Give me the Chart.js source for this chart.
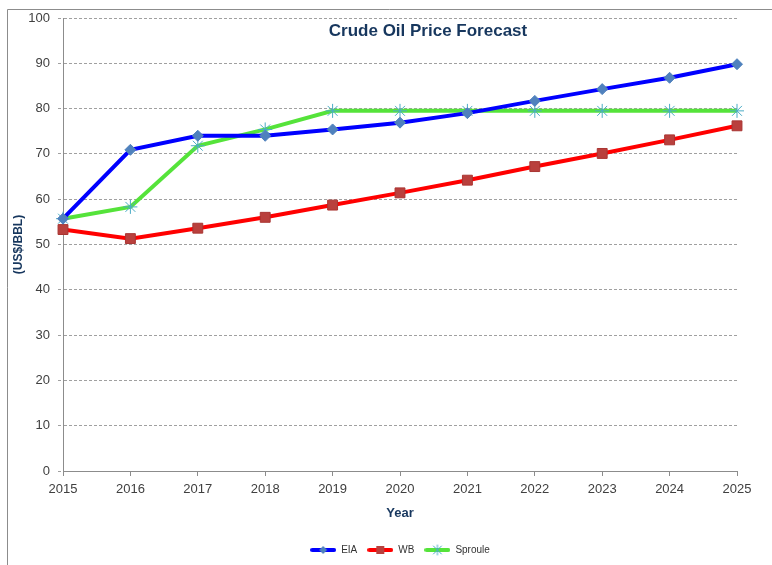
<!DOCTYPE html>
<html>
<head>
<meta charset="utf-8">
<script src="https://cdn.jsdelivr.net/npm/chart.js@4"></script>
<style>
  html, body { margin: 0; padding: 0; background: #fff; }
  #wrap { width: 772px; height: 565px; position: relative; }
</style>
</head>
<body>
<div id="wrap"><canvas id="c" width="772" height="565"></canvas></div>
<script>
const years = ['2015','2016','2017','2018','2019','2020','2021','2022','2023','2024','2025'];
const eia = [55.7, 70.9, 74.0, 74.0, 75.4, 76.9, 79.0, 81.7, 84.3, 86.8, 89.8];
const wb = [53.3, 51.3, 53.6, 56.0, 58.7, 61.4, 64.2, 67.2, 70.1, 73.1, 76.2];
const sproule = [55.7, 58.3, 71.8, 75.4, 79.5, 79.5, 79.5, 79.5, 79.5, 79.5, 79.5];
const seriesNames = ['EIA', 'WB', 'Sproule'];
const titleText = 'Crude Oil Price Forecast';
const yTitle = '(US$/BBL)';
const xTitle = 'Year';

const navy = '#17375E';
const lineColors = ['#0000FF', '#FF0000', '#55E33A'];
const markerFill = ['#4F81BD', '#B9403D', '#4BACC6'];

function legendSample(i) {
  const cv = document.createElement('canvas');
  cv.width = 26; cv.height = 12;
  const g = cv.getContext('2d');
  g.strokeStyle = lineColors[i]; g.lineWidth = 4; g.lineCap = 'round';
  g.beginPath(); g.moveTo(2, 6); g.lineTo(24, 6); g.stroke();
  const cx = 13, cy = 6;
  if (i === 0) {
    g.fillStyle = markerFill[0];
    g.beginPath(); g.moveTo(cx, cy - 4); g.lineTo(cx + 4, cy); g.lineTo(cx, cy + 4); g.lineTo(cx - 4, cy); g.closePath(); g.fill();
  } else if (i === 1) {
    g.fillStyle = markerFill[1];
    g.fillRect(cx - 4, cy - 4, 8, 8);
  } else {
    g.strokeStyle = markerFill[2]; g.lineWidth = 1;
    g.beginPath();
    g.moveTo(cx - 4, cy - 4); g.lineTo(cx + 4, cy + 4);
    g.moveTo(cx + 4, cy - 4); g.lineTo(cx - 4, cy + 4);
    g.moveTo(cx, cy - 5); g.lineTo(cx, cy + 5);
    g.stroke();
  }
  return cv;
}
const samples = [legendSample(0), legendSample(1), legendSample(2)];

const framePlugin = {
  id: 'frame',
  beforeDraw(chart) {
    const ctx = chart.ctx;
    ctx.save();
    ctx.fillStyle = '#fff';
    ctx.fillRect(0, 0, chart.width, chart.height);
    ctx.strokeStyle = '#8C8C8C';
    ctx.lineWidth = 1;
    ctx.beginPath();
    ctx.moveTo(7.5, chart.height); ctx.lineTo(7.5, 9.5); ctx.lineTo(chart.width, 9.5);
    ctx.stroke();
    ctx.restore();
  },
  afterDraw(chart) {
    const ctx = chart.ctx;
    ctx.save();
    ctx.fillStyle = navy;
    ctx.font = 'bold 17px "Liberation Sans", Arial, sans-serif';
    ctx.textAlign = 'center';
    ctx.textBaseline = 'middle';
    ctx.fillText(titleText, 428, 31);
    ctx.restore();
  }
};

new Chart(document.getElementById('c'), {
  type: 'line',
  data: {
    labels: years,
    datasets: [
      { label: seriesNames[0], data: eia, borderColor: lineColors[0], backgroundColor: lineColors[0], borderWidth: 4,
        pointStyle: 'rectRot', pointRadius: 5.5, pointBackgroundColor: markerFill[0], pointBorderColor: markerFill[0], pointBorderWidth: 1 },
      { label: seriesNames[1], data: wb, borderColor: lineColors[1], backgroundColor: lineColors[1], borderWidth: 4,
        pointStyle: 'rect', pointRadius: 7, pointBackgroundColor: markerFill[1], pointBorderColor: '#A93532', pointBorderWidth: 1 },
      { label: seriesNames[2], data: sproule, borderColor: lineColors[2], backgroundColor: lineColors[2], borderWidth: 4,
        pointStyle: 'star', pointRadius: 7, pointBackgroundColor: markerFill[2], pointBorderColor: markerFill[2], pointBorderWidth: 1 }
    ]
  },
  options: {
    responsive: false,
    animation: false,
    layout: { padding: { left: 0, right: 35, top: 18, bottom: 0 } },
    elements: { line: { tension: 0 } },
    plugins: {
      title: { display: false },
      tooltip: { enabled: false },
      legend: {
        display: true,
        position: 'bottom',
        fullSize: false,
        labels: {
          usePointStyle: true,
          pointStyleWidth: 26,
          boxHeight: 10,
          padding: 10,
          color: '#333',
          font: { family: '"Liberation Sans", Arial, sans-serif', size: 10 },
          generateLabels(chart) {
            const items = Chart.defaults.plugins.legend.labels.generateLabels(chart);
            items.forEach((it, i) => { it.pointStyle = samples[i]; });
            return items;
          }
        }
      }
    },
    scales: {
      x: {
        type: 'category',
        offset: false,
        afterFit(scale) { scale.height = 64; },
        grid: { display: true, drawOnChartArea: false, drawTicks: true, tickLength: 5, color: '#8C8C8C' },
        border: { display: true, color: '#8C8C8C', width: 1 },
        ticks: { color: '#404040', padding: 6, maxRotation: 0, autoSkip: false,
          font: { family: '"Liberation Sans", Arial, sans-serif', size: 13 } },
        title: { display: true, text: xTitle, color: navy, padding: { top: 0, bottom: 14 },
          font: { family: '"Liberation Sans", Arial, sans-serif', size: 13, weight: 'bold' } }
      },
      y: {
        min: 0, max: 100,
        afterFit(scale) { scale.width = 63; },
        grid: { display: true, drawOnChartArea: true, drawTicks: true, tickLength: 5, color: '#A0A0A0',
          tickBorderDash: [3, 2] },
        border: { display: true, color: '#8C8C8C', width: 1, dash: [3, 2] },
        ticks: { stepSize: 10, color: '#404040', padding: 8,
          font: { family: '"Liberation Sans", Arial, sans-serif', size: 13 } },
        title: { display: true, text: yTitle, color: navy, padding: { top: 11, bottom: 0 },
          font: { family: '"Liberation Sans", Arial, sans-serif', size: 12, weight: 'bold' } }
      }
    }
  },
  plugins: [framePlugin]
});
</script>
</body>
</html>
